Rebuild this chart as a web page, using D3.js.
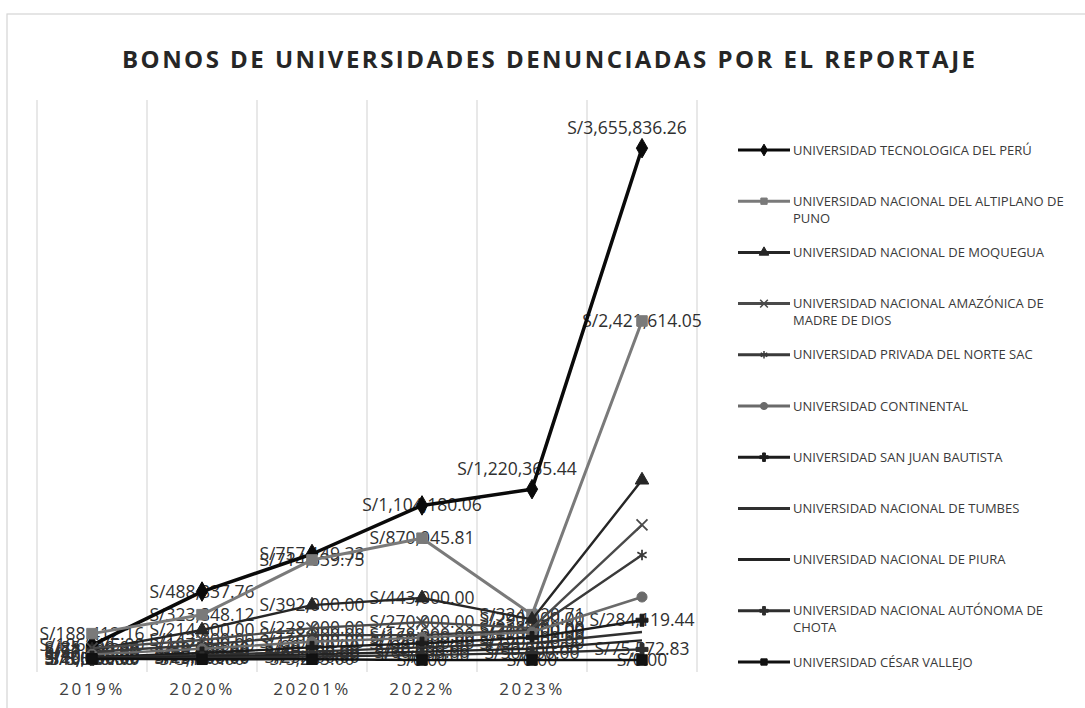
<!DOCTYPE html>
<html lang="es">
<head>
<meta charset="utf-8">
<title>Bonos de universidades</title>
<script src="https://d3js.org/d3.v7.min.js"></script>
<style>
  body { margin: 0; background: #fff; }
  text { font-family: "Open Sans", "Liberation Sans", sans-serif; }
  .title { font-weight: bold; font-size: 24px; fill: #262626; }
  .xlab { font-size: 17px; fill: #404040; letter-spacing: 2.5px; }
  .dlab { font-size: 17.5px; fill: #303030; }
  .leg { font-size: 13px; fill: #3a3a3a; }
</style>
</head>
<body>
<div id="chart"></div>
<script>

// categories
var years = ["2019", "2020", "2021", "2022", "2023", "2024"];
var yearLabels = ["2019%", "2020%", "20201%", "2022%", "2023%", ""];

var names = [
  "UNIVERSIDAD TECNOLOGICA DEL PERÚ",
  "UNIVERSIDAD NACIONAL DEL ALTIPLANO DE\nPUNO",
  "UNIVERSIDAD NACIONAL DE MOQUEGUA",
  "UNIVERSIDAD NACIONAL AMAZÓNICA DE\nMADRE DE DIOS",
  "UNIVERSIDAD PRIVADA DEL NORTE SAC",
  "UNIVERSIDAD CONTINENTAL",
  "UNIVERSIDAD SAN JUAN BAUTISTA",
  "UNIVERSIDAD NACIONAL DE TUMBES",
  "UNIVERSIDAD NACIONAL DE PIURA",
  "UNIVERSIDAD NACIONAL AUTÓNOMA DE\nCHOTA",
  "UNIVERSIDAD CÉSAR VALLEJO"
];

// series values (soles), one array per university
var utp          = [106575.00, 488837.76, 757149.33, 1104180.06, 1220365.44, 3655836.26];
var puno         = [188412.16, 323848.12, 714639.75, 870045.81, 324120.71, 2421614.05];
var moquegua     = [71000.00, 214000.00, 392000.00, 443000.00, 290000.00, 1285000.00];
var unamad       = [85000.00, 143000.00, 228000.00, 270000.00, 228000.00, 965000.00];
var upn          = [57000.00, 107000.00, 178000.00, 178000.00, 214000.00, 750000.00];
var continental  = [40000.00, 80000.00, 130000.00, 160000.00, 200000.00, 450000.00];
var sanJuan      = [20000.00, 50000.00, 90000.00, 120000.00, 160000.00, 284119.44];
var tumbes       = [15000.00, 35000.00, 60000.00, 90000.00, 120000.00, 200000.00];
var piura        = [10000.00, 25000.00, 40000.00, 60000.00, 80000.00, 140000.00];
var chota        = [5000.00, 15000.00, 25000.00, 35000.00, 50000.00, 75572.83];
var cesarVallejo = [8520.00, 5100.00, 5283.00, 0, 0, 0];

var seriesValues = [utp, puno, moquegua, unamad, upn, continental, sanJuan, tumbes, piura, chota, cesarVallejo];

// look of each series
var colors  = ["#0a0a0a", "#7a7a7a", "#262626", "#4a4a4a", "#3a3a3a", "#6a6a6a", "#1c1c1c", "#303030", "#242424", "#2e2e2e", "#111111"];
var widths  = [3.5, 3, 2.4, 2.4, 2.4, 2.4, 2.4, 2.4, 2.4, 2.4, 2.6];
var markers = ["diamond", "square", "triangle", "x", "asterisk", "circle", "plus", "none", "none", "plus", "square"];
// series whose last point carries no visible label in the reference
var noLastLabel = [2, 3, 4, 5, 7, 8];

var w = 1085, h = 708;

var svg = d3.select("#chart").append("svg")
  .attr("width", w).attr("height", h);

// frame
svg.append("rect")
  .attr("x", 7).attr("y", 14).attr("width", 1100).attr("height", 720)
  .attr("fill", "none").attr("stroke", "#d4d4d4").attr("stroke-width", 1.2);

svg.append("text").attr("class", "title")
  .attr("x", 122).attr("y", 68)
  .attr("textLength", 853).attr("lengthAdjust", "spacing")
  .text("BONOS DE UNIVERSIDADES DENUNCIADAS POR EL REPORTAJE");

var x = d3.scaleBand().domain(years).range([37, 697]);
var y = d3.scaleLinear().domain([0, 4000000]).range([660, 100]);
var cx = function(d) { return x(d) + x.bandwidth() / 2; };

// vertical gridlines at category boundaries
var bounds = years.map(function(d) { return x(d); }).concat([x.range()[1]]);
svg.append("g").selectAll("line")
  .data(bounds).enter().append("line")
  .attr("x1", function(d) { return d; }).attr("x2", function(d) { return d; })
  .attr("y1", 100).attr("y2", 672)
  .attr("stroke", "#d9d9d9").attr("stroke-width", 1.2);

// category labels
svg.append("g").selectAll("text")
  .data(years).enter().append("text")
  .attr("class", "xlab")
  .attr("x", function(d) { return cx(d); })
  .attr("y", 695)
  .attr("text-anchor", "middle")
  .text(function(d, i) { return yearLabels[i]; });

var fmt = function(v) { return "S/" + d3.format(",.2f")(v); };

// data labels (drawn first, lines go over them)
var labelsG = svg.append("g");
seriesValues.forEach(function(vals, s) {
  var pts = vals.map(function(v, i) { return { v: v, i: i }; })
    .filter(function(p) { return !(p.i === vals.length - 1 && noLastLabel.indexOf(s) >= 0); });
  labelsG.append("g").selectAll("text")
    .data(pts).enter().append("text")
    .attr("class", "dlab")
    .attr("x", function(p) {
      var above = (s === 0 && p.i >= 4);
      return cx(years[p.i]) - (above ? 15 : 0);
    })
    .attr("y", function(p) {
      var above = (s === 0 && p.i >= 4);
      return above ? y(p.v) - 14 : y(p.v) + 6;
    })
    .attr("text-anchor", "middle")
    .text(function(p) { return fmt(p.v); });
});

function markerPath(type, size) {
  var t = {
    diamond: d3.symbolDiamond, square: d3.symbolSquare, triangle: d3.symbolTriangle,
    x: d3.symbolX, asterisk: d3.symbolAsterisk, circle: d3.symbolCircle, plus: d3.symbolCross
  }[type];
  return d3.symbol().type(t).size(size)();
}
var stroked = { x: true, asterisk: true };

var line = d3.line()
  .x(function(d, i) { return cx(years[i]); })
  .y(function(d) { return y(d); });

var linesG = svg.append("g");
seriesValues.forEach(function(vals, s) {
  var g = linesG.append("g");
  g.append("path")
    .datum(vals)
    .attr("d", line)
    .attr("fill", "none")
    .attr("stroke", colors[s])
    .attr("stroke-width", widths[s])
    .attr("stroke-linejoin", "round");
  if (markers[s] === "none") return;
  g.selectAll("path.mk")
    .data(vals).enter().append("path")
    .attr("class", "mk")
    .attr("transform", function(d, i) { return "translate(" + cx(years[i]) + "," + y(d) + ")"; })
    .attr("d", markerPath(markers[s], s < 2 || s === 10 ? 110 : 80))
    .attr("fill", stroked[markers[s]] ? "none" : colors[s])
    .attr("stroke", colors[s])
    .attr("stroke-width", stroked[markers[s]] ? 1.8 : 1);
});

// legend
var legend = svg.append("g");
names.forEach(function(name, s) {
  var ly = 150 + s * 51.2;
  var item = legend.append("g");
  item.append("line")
    .attr("x1", 738).attr("x2", 790).attr("y1", ly).attr("y2", ly)
    .attr("stroke", colors[s]).attr("stroke-width", 3);
  if (markers[s] !== "none") {
    item.append("path")
      .attr("transform", "translate(764," + ly + ")")
      .attr("d", markerPath(markers[s], 40))
      .attr("fill", stroked[markers[s]] ? "none" : colors[s])
      .attr("stroke", colors[s])
      .attr("stroke-width", stroked[markers[s]] ? 1.5 : 1);
  }
  name.split("\n").forEach(function(part, k) {
    item.append("text").attr("class", "leg")
      .attr("x", 793).attr("y", ly + 4.5 + k * 17)
      .text(part);
  });
});

</script>
</body>
</html>
